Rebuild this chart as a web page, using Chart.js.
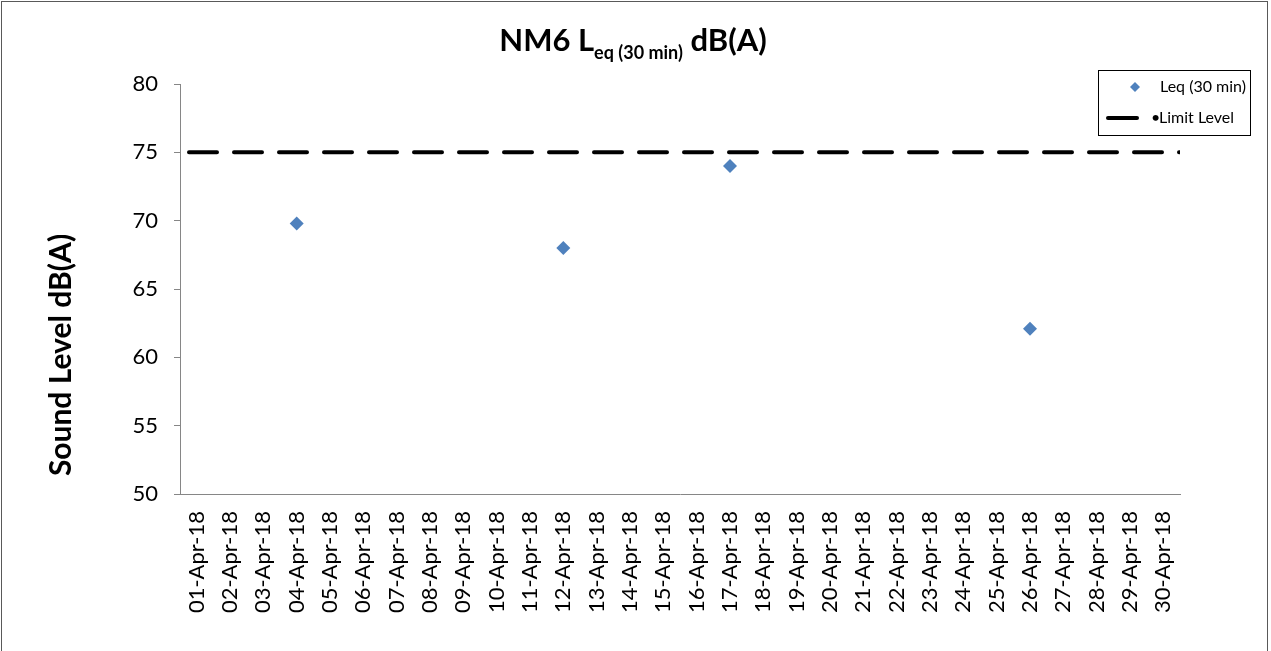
<html lang="en">
<head>
  <meta charset="UTF-8">
  <title>NM6 Leq</title>
  <script src="https://cdn.jsdelivr.net/npm/chart.js"></script>
  <style>
    body { margin: 0; background: #fff; }
  </style>
</head>
<body>
  <canvas id="viz" width="1271" height="651"></canvas>
  <script>
    // data
    const dates = [
      '01-Apr-18', '02-Apr-18', '03-Apr-18', '04-Apr-18', '05-Apr-18', '06-Apr-18',
      '07-Apr-18', '08-Apr-18', '09-Apr-18', '10-Apr-18', '11-Apr-18', '12-Apr-18',
      '13-Apr-18', '14-Apr-18', '15-Apr-18', '16-Apr-18', '17-Apr-18', '18-Apr-18',
      '19-Apr-18', '20-Apr-18', '21-Apr-18', '22-Apr-18', '23-Apr-18', '24-Apr-18',
      '25-Apr-18', '26-Apr-18', '27-Apr-18', '28-Apr-18', '29-Apr-18', '30-Apr-18'
    ]
    const leqDates = ['04-Apr-18', '12-Apr-18', '17-Apr-18', '26-Apr-18']
    const leqValues = [69.8, 68.0, 74.0, 62.1]
    const limitLevel = 75
    const yTicks = [50, 55, 60, 65, 70, 75, 80]

    const FONT = 'Lato, Calibri, sans-serif'
    const blue = '#4F81BD'
    const axisGrey = '#868686'

    // title with subscript, rotated y title, boxed legend and the outer frame
    const decor = {
      id: 'decor',
      afterDraw(chart) {
        const ctx = chart.ctx
        ctx.save()

        ctx.strokeStyle = '#595959'
        ctx.lineWidth = 1
        ctx.strokeRect(1.5, 1.5, 1266, 660)

        // title
        const parts = [
          { t: 'NM6 L', size: 31, dy: 0 },
          { t: 'eq (30 min)', size: 18, dy: 8 },
          { t: ' dB(A)', size: 31, dy: 0 }
        ]
        let total = 0
        parts.forEach(p => {
          ctx.font = `bold ${p.size}px ${FONT}`
          p.w = ctx.measureText(p.t).width
          total += p.w
        })
        let x = 633 - total / 2
        ctx.fillStyle = '#000'
        ctx.textBaseline = 'alphabetic'
        ctx.textAlign = 'left'
        parts.forEach(p => {
          ctx.font = `bold ${p.size}px ${FONT}`
          ctx.fillText(p.t, x, 51 + p.dy)
          x += p.w
        })

        // y axis title
        ctx.save()
        ctx.translate(61, 355)
        ctx.rotate(-Math.PI / 2)
        ctx.font = `bold 30px ${FONT}`
        ctx.textAlign = 'center'
        ctx.textBaseline = 'middle'
        ctx.fillText('Sound Level dB(A)', 0, 0)
        ctx.restore()

        // legend
        ctx.fillStyle = '#fff'
        ctx.fillRect(1098, 70, 152, 65)
        ctx.strokeStyle = '#000'
        ctx.lineWidth = 1
        ctx.strokeRect(1098.5, 70.5, 152, 65)

        ctx.fillStyle = blue
        ctx.beginPath()
        ctx.moveTo(1135, 82)
        ctx.lineTo(1140, 87)
        ctx.lineTo(1135, 92)
        ctx.lineTo(1130, 87)
        ctx.closePath()
        ctx.fill()

        ctx.strokeStyle = '#000'
        ctx.lineWidth = 4
        ctx.lineCap = 'round'
        ctx.beginPath()
        ctx.moveTo(1108, 118)
        ctx.lineTo(1137, 118)
        ctx.stroke()

        ctx.fillStyle = '#000'
        ctx.font = `16px ${FONT}`
        ctx.textBaseline = 'middle'
        ctx.fillText(chart.data.datasets[0].label, 1160, 87)
        ctx.fillText('\u2022', 1151, 118)
        ctx.fillText(chart.data.datasets[1].label, 1159, 118)

        ctx.restore()
      }
    }

    const chart = new Chart(document.getElementById('viz'), {
      type: 'line',
      data: {
        labels: dates,
        datasets: [{
          label: 'Leq (30 min)',
          xAxisID: 'x',
          data: leqDates.map((d, i) => ({ x: d, y: leqValues[i] })),
          showLine: false,
          pointStyle: 'rectRot',
          pointRadius: 7,
          pointHoverRadius: 7,
          pointBorderWidth: 0,
          backgroundColor: blue,
          borderColor: blue
        }, {
          label: 'Limit Level',
          xAxisID: 'xLimit',
          data: [{ x: 0, y: limitLevel }, { x: 1, y: limitLevel }],
          borderColor: '#000',
          borderWidth: 4,
          borderDash: [28, 17],
          borderDashOffset: 36,
          borderCapStyle: 'round',
          pointRadius: 0
        }]
      },
      options: {
        responsive: false,
        animation: false,
        layout: { padding: { top: 84, right: 91, bottom: 0, left: 0 } },
        plugins: {
          legend: { display: false },
          title: { display: false },
          tooltip: { enabled: false }
        },
        scales: {
          x: {
            type: 'category',
            offset: true,
            grid: { display: false, drawTicks: false },
            border: { color: axisGrey, width: 1 },
            ticks: {
              autoSkip: false,
              minRotation: 90,
              maxRotation: 90,
              padding: 17,
              color: '#000',
              font: { family: FONT, size: 22 }
            },
            afterFit: s => { s.height = 157 }
          },
          xLimit: { type: 'linear', min: 0, max: 1, display: false },
          y: {
            min: yTicks[0],
            max: yTicks[yTicks.length - 1],
            afterBuildTicks: s => { s.ticks = yTicks.map(v => ({ value: v })) },
            grid: { drawOnChartArea: false, tickLength: 6, color: axisGrey },
            border: { color: axisGrey, width: 1 },
            ticks: {
              padding: 16,
              color: '#000',
              font: { family: FONT, size: 22 }
            },
            afterFit: s => { s.width = 180 }
          }
        }
      },
      plugins: [decor]
    })
  </script>
</body>
</html>
